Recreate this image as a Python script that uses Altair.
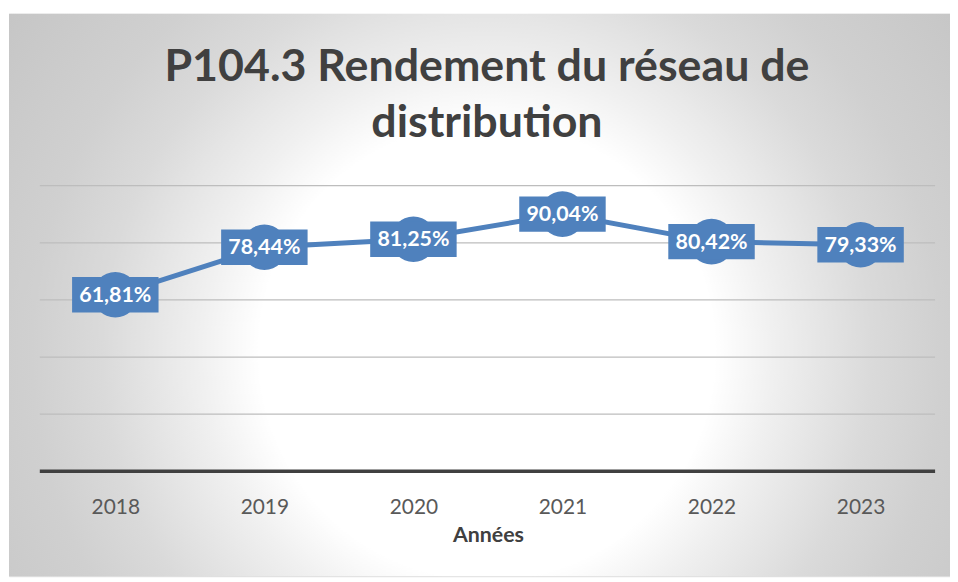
import altair as alt
import pandas as pd

# ---- data ----
years = ["2018", "2019", "2020", "2021", "2022", "2023"]
values = [61.81, 78.44, 81.25, 90.04, 80.42, 79.33]
labels = ["61,81%", "78,44%", "81,25%", "90,04%", "80,42%", "79,33%"]
grid_values = [20, 40, 60, 80, 100]
baseline_value = [0]
title_lines = ["P104.3 Rendement du réseau de", "distribution"]
x_title = "Années"

df = pd.DataFrame({"year": years, "value": values, "label": labels})
grid_df = pd.DataFrame({"v": grid_values})
base_df = pd.DataFrame({"v": baseline_value})

W, H = 947, 566
BLUE = "#4f81bd"
FONT = "Lato"

xscale = alt.Scale(type="point", domain=years, range=[107, 857], padding=0)
yscale = alt.Scale(domain=[-36.70, 160.17], nice=False, zero=False)

one = alt.Data(values=[{}])

bg = alt.Chart(one).mark_rect(
    fill={
        "gradient": "radial",
        "x1": 0.508, "y1": 0.56, "r1": 0,
        "x2": 0.508, "y2": 0.56, "r2": 0.62,
        "stops": [
            {"offset": 0, "color": "#ffffff"},
            {"offset": 0.39, "color": "#ffffff"},
            {"offset": 0.49, "color": "#f0f0f0"},
            {"offset": 0.66, "color": "#dadada"},
            {"offset": 0.78, "color": "#d0d0d0"},
            {"offset": 1, "color": "#c6c6c6"},
        ],
    }
).encode(x=alt.value(0), x2=alt.value(W), y=alt.value(0), y2=alt.value(H))

grid = alt.Chart(grid_df).mark_rule(color="#bdbdbd", strokeWidth=1.3).encode(
    x=alt.value(31), x2=alt.value(932),
    y=alt.Y("v:Q", scale=yscale, axis=None),
)

base = alt.Chart(base_df).mark_rule(color="#404040", strokeWidth=3.5).encode(
    x=alt.value(31), x2=alt.value(932),
    y=alt.Y("v:Q", scale=yscale, axis=None),
)

xenc = alt.X(
    "year:O", scale=xscale, sort=years,
    axis=alt.Axis(
        offset=-105.5, domain=False, ticks=False, grid=False, labelAngle=0,
        labelFont=FONT, labelFontSize=21, labelColor="#595959", labelPadding=25,
        title=x_title, titleFont=FONT, titleFontSize=21.5, titleFontWeight="bold",
        titleColor="#404040", titlePadding=8, zindex=5,
    ),
)
yenc = alt.Y("value:Q", scale=yscale, axis=None)

line = alt.Chart(df).mark_line(color=BLUE, strokeWidth=5).encode(x=xenc, y=yenc)
circles = alt.Chart(df).mark_circle(size=2100, color=BLUE, opacity=1).encode(
    x=alt.X("year:O", scale=xscale, sort=years), y=yenc)
boxes = alt.Chart(df).mark_point(
    shape="M-1,-0.41L1,-0.41L1,0.41L-1,0.41Z", filled=True, fill=BLUE,
    opacity=1, size=87 * 87, strokeWidth=0,
).encode(x=alt.X("year:O", scale=xscale, sort=years), y=yenc)
texts = alt.Chart(df).mark_text(
    color="white", font=FONT, fontWeight="bold", fontSize=21.5, baseline="middle", dy=1,
).encode(x=alt.X("year:O", scale=xscale, sort=years), y=yenc, text="label:N")

title = alt.Chart(one).mark_text(
    text=title_lines, font=FONT, fontWeight="bold", fontSize=45, color="#404040",
    lineHeight=56, baseline="middle", align="center",
).encode(x=alt.value(481), y=alt.value(54))

chart = alt.layer(bg, grid, base, line, circles, boxes, texts, title).properties(
    width=W, height=H,
    padding={"left": 1, "top": 4, "right": 0, "bottom": 0},
    autosize="none",
).configure_view(stroke="#c4c4c4", strokeWidth=1.5).configure(background="white")

chart.save("out.html", embed_options={"renderer": "svg", "actions": False})
